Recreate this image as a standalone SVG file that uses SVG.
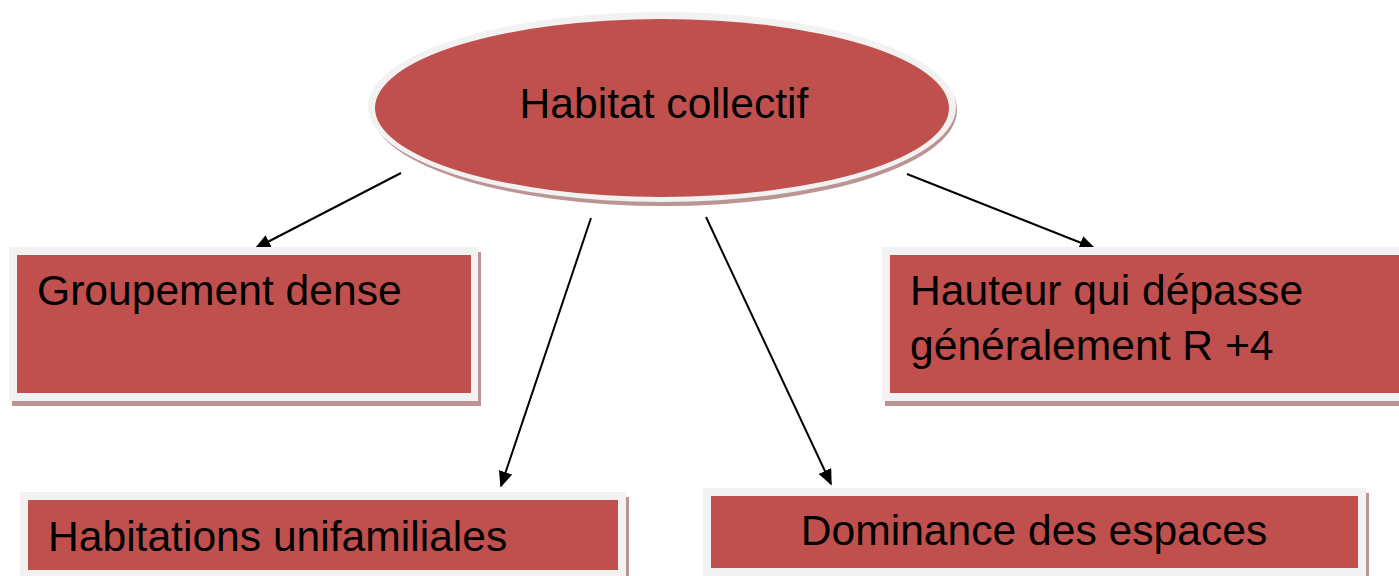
<svg xmlns="http://www.w3.org/2000/svg" width="1399" height="576" viewBox="0 0 1399 576">
<defs>
<style>
.shadow{fill:#bb9494}
.frame{fill:#f2f2f2}
.fill{fill:#c0504d}
.lbl{font-family:"Liberation Sans",Arial,sans-serif;font-size:42.6px;fill:#000}
.conn{stroke:#000;stroke-width:2;fill:none;marker-end:url(#arr)}
</style>
<marker id="arr" viewBox="0 0 10 10" refX="9" refY="5" markerWidth="8" markerHeight="7" orient="auto" markerUnits="strokeWidth" preserveAspectRatio="none">
<path d="M0,0 L10,5 L0,10 Z" fill="#000"/>
</marker>
</defs>
<rect width="1399" height="576" fill="#fff"/>
<g id="connectors">
<line class="conn" x1="401" y1="173" x2="256" y2="248"/>
<line class="conn" x1="591" y1="218" x2="501" y2="486"/>
<line class="conn" x1="706" y1="217" x2="831" y2="484"/>
<line class="conn" x1="907" y1="174" x2="1094" y2="248"/>
</g>
<g id="node-habitat-collectif">
<ellipse class="shadow" cx="664" cy="110" rx="293" ry="96"/>
<ellipse class="frame" cx="662" cy="107" rx="294" ry="95"/>
<ellipse class="fill" cx="662" cy="108" rx="287" ry="89"/>
<text class="lbl" x="664" y="118" text-anchor="middle">Habitat collectif</text>
</g>
<g id="node-groupement">
<rect class="shadow" x="12" y="252" width="469" height="154"/>
<rect class="frame" x="9" y="247" width="469" height="154"/>
<rect class="fill" x="17" y="255" width="454" height="138"/>
<text class="lbl" x="37" y="305">Groupement dense</text>
</g>
<g id="node-hauteur">
<rect class="shadow" x="885" y="252" width="520" height="154"/>
<rect class="frame" x="882" y="247" width="520" height="154"/>
<rect class="fill" x="890" y="255" width="512" height="138"/>
<text class="lbl" x="910" y="305">Hauteur qui dépasse</text>
<text class="lbl" x="910" y="360">généralement R +4</text>
</g>
<g id="node-habitations">
<rect class="shadow" x="23" y="497" width="606" height="90"/>
<rect class="frame" x="20" y="492" width="606" height="90"/>
<rect class="fill" x="28" y="500" width="590" height="70"/>
<text class="lbl" x="48" y="551">Habitations unifamiliales</text>
</g>
<g id="node-dominance">
<rect class="shadow" x="706" y="493" width="663" height="90"/>
<rect class="frame" x="703" y="488" width="663" height="90"/>
<rect class="fill" x="711" y="496" width="647" height="72"/>
<text class="lbl" x="1034" y="545" text-anchor="middle">Dominance des espaces</text>
</g>
</svg>
